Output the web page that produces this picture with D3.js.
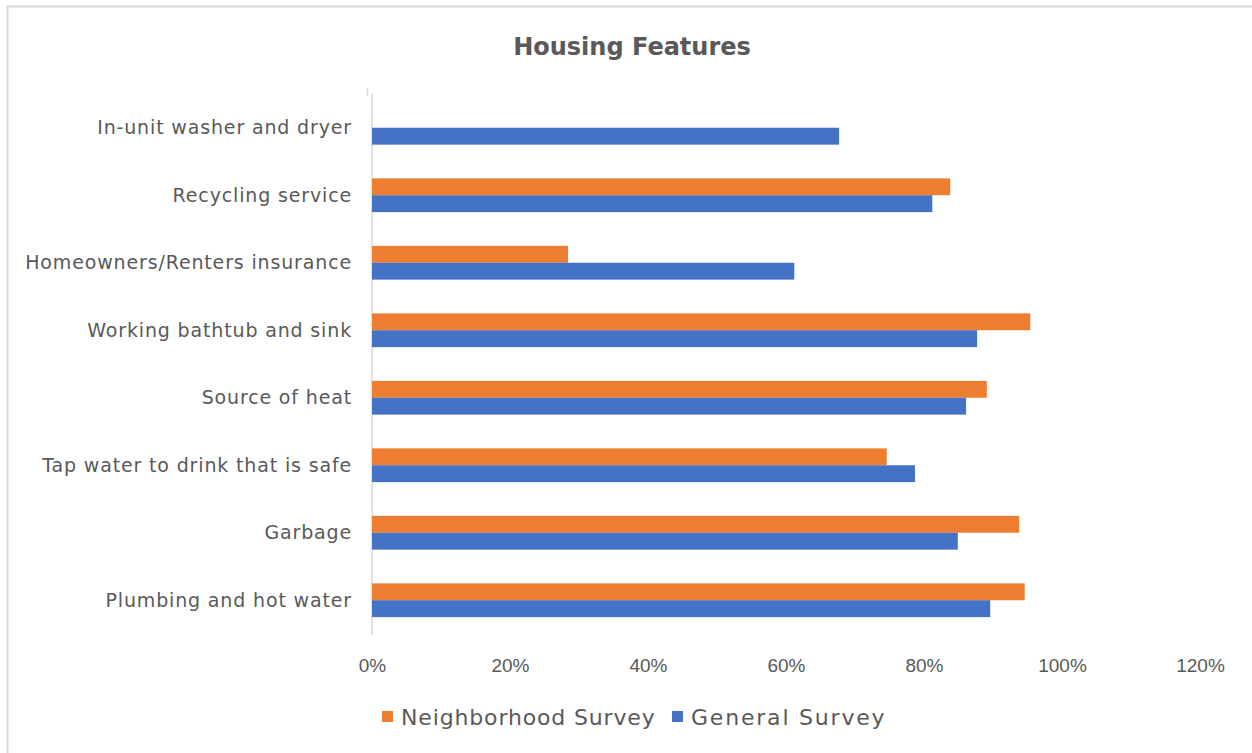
<!DOCTYPE html>
<html><head><meta charset="utf-8">
<script src="https://cdn.jsdelivr.net/npm/d3@7"></script>
<style>body{margin:0;background:#fff}</style>
</head><body>
<svg id="c" width="1252" height="753"></svg>
<script>
const categories = ["In-unit washer and dryer","Recycling service","Homeowners/Renters insurance","Working bathtub and sink","Source of heat","Tap water to drink that is safe","Garbage","Plumbing and hot water"];
const seriesNames = ["Neighborhood Survey","General Survey"];
const neighborhood = [0, 0.838, 0.284, 0.954, 0.891, 0.746, 0.938, 0.946];
const general = [0.677, 0.812, 0.612, 0.877, 0.861, 0.787, 0.849, 0.896];
const tickValues = [0,0.2,0.4,0.6,0.8,1.0,1.2];
const colors = ["#ED7D31","#4472C4"];

const svg = d3.select("#c");
svg.append("rect").attr("x",7.5).attr("y",6.5).attr("width",1260).attr("height",760)
  .attr("fill","#fff").attr("stroke","#d9d9d9").attr("stroke-width",2);

const x = d3.scaleLinear().domain([0,1.2]).range([372,1200]);
const y = d3.scaleBand().domain(categories).range([94,634]).paddingInner(0.5).paddingOuter(0.25);
const ys = d3.scaleBand().domain(seriesNames).range([0,y.bandwidth()]);

svg.append("text").attr("x",632).attr("y",55).attr("text-anchor","middle")
  .attr("font-family","DejaVu Sans").attr("font-weight","bold").attr("font-size",24)
  .attr("fill","#595959").text("Housing Features");

// axis line
svg.append("line").attr("x1",372).attr("x2",372).attr("y1",94).attr("y2",635)
  .attr("stroke","#d9d9d9").attr("stroke-width",1.5);
svg.append("line").attr("x1",367.5).attr("x2",367.5).attr("y1",88).attr("y2",96)
  .attr("stroke","#d9d9d9").attr("stroke-width",1.5);

const data = [neighborhood, general];
data.forEach((arr,si)=>{
  svg.append("g").selectAll("rect").data(arr).join("rect")
    .attr("x",x(0)).attr("y",(d,i)=>y(categories[i])+ys(seriesNames[si]))
    .attr("width",d=>x(d)-x(0)).attr("height",ys.bandwidth())
    .attr("fill",colors[si]);
});

// category labels
svg.append("g").selectAll("text").data(categories).join("text")
  .attr("x",352).attr("y",d=>y(d)+y.bandwidth()/2).attr("dy","0.35em")
  .attr("text-anchor","end").attr("font-family","DejaVu Sans").attr("font-size",19)
  .attr("letter-spacing",0.85)
  .attr("fill","#595959").text(d=>d);

// x axis
const xAxis = d3.axisBottom(x).tickValues(tickValues).tickFormat(d3.format(".0%")).tickSize(0).tickPadding(0);
const gx = svg.append("g").attr("transform","translate(0,672)").call(xAxis);
gx.select(".domain").remove();
gx.selectAll("text").attr("font-family","Liberation Sans Narrow, Liberation Sans").attr("font-size",19)
  .attr("fill","#595959").attr("dy","0");

// legend
const leg = [{n:seriesNames[0],c:colors[0],x:382,ls:0.85},{n:seriesNames[1],c:colors[1],x:672,ls:1.8}];
leg.forEach(l=>{
  svg.append("rect").attr("x",l.x).attr("y",711).attr("width",11).attr("height",11).attr("fill",l.c);
  svg.append("text").attr("x",l.x+19).attr("y",725).attr("font-family","DejaVu Sans")
    .attr("font-size",22).attr("letter-spacing",l.ls).attr("fill","#595959").text(l.n);
});
</script>
</body></html>
